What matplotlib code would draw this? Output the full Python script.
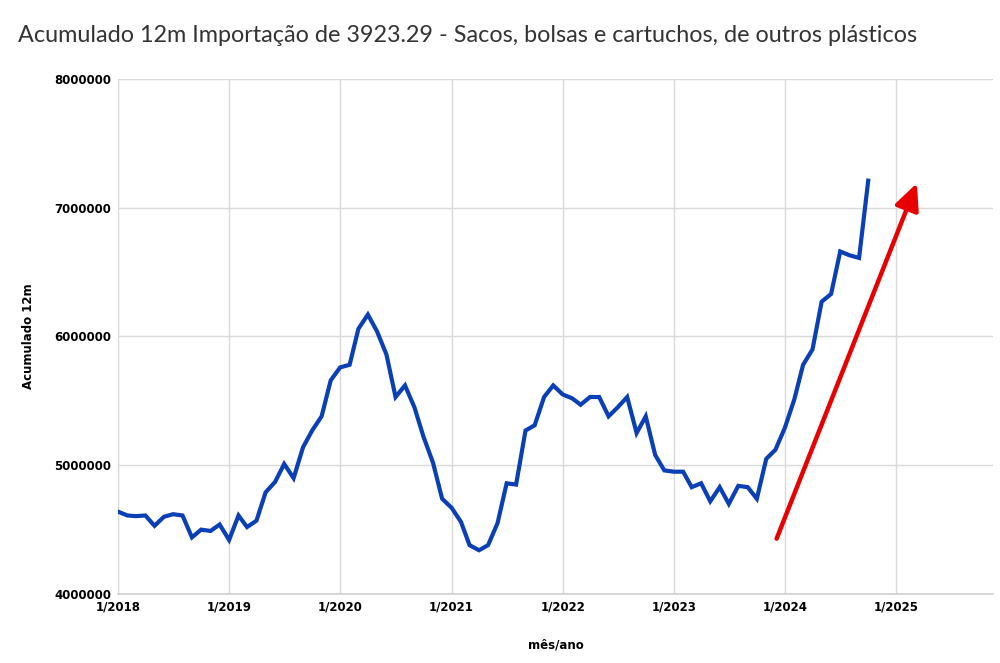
import matplotlib.pyplot as plt
import matplotlib.dates as mdates
import pandas as pd

# monthly 12-month accumulated imports, 1/2018 .. 10/2024
months = pd.date_range("2018-01-01", "2024-10-01", freq="MS")
values = [
    4.64e6, 4.61e6, 4.605e6, 4.61e6, 4.53e6, 4.60e6, 4.62e6, 4.61e6, 4.44e6, 4.50e6, 4.49e6, 4.54e6,  # 2018
    4.42e6, 4.61e6, 4.52e6, 4.57e6, 4.79e6, 4.87e6, 5.01e6, 4.90e6, 5.14e6, 5.27e6, 5.38e6, 5.66e6,  # 2019
    5.76e6, 5.78e6, 6.06e6, 6.17e6, 6.04e6, 5.86e6, 5.53e6, 5.62e6, 5.45e6, 5.22e6, 5.02e6, 4.74e6,  # 2020
    4.67e6, 4.56e6, 4.38e6, 4.34e6, 4.38e6, 4.55e6, 4.86e6, 4.85e6, 5.27e6, 5.31e6, 5.53e6, 5.62e6,  # 2021
    5.55e6, 5.52e6, 5.47e6, 5.53e6, 5.53e6, 5.38e6, 5.45e6, 5.53e6, 5.25e6, 5.38e6, 5.08e6, 4.96e6,  # 2022
    4.95e6, 4.95e6, 4.83e6, 4.86e6, 4.72e6, 4.83e6, 4.70e6, 4.84e6, 4.83e6, 4.74e6, 5.05e6, 5.12e6,  # 2023
    5.29e6, 5.51e6, 5.78e6, 5.90e6, 6.27e6, 6.33e6, 6.66e6, 6.63e6, 6.61e6, 7.21e6,                  # 2024
]
y_ticks = [4000000, 5000000, 6000000, 7000000, 8000000]

title = "Acumulado 12m Importação de 3923.29 - Sacos, bolsas e cartuchos, de outros plásticos"

fig = plt.figure(figsize=(10, 6.63), dpi=100)
ax = fig.add_axes([0.118, 0.104, 0.875, 0.777])

ax.plot(months, values, color="#0a3fb5", linewidth=3.0, solid_joinstyle="miter", zorder=3)

# red trend arrow
ax.annotate("", xy=(pd.Timestamp("2025-03-10"), 7.19e6), xytext=(pd.Timestamp("2023-12-05"), 4.43e6),
            arrowprops=dict(arrowstyle="-|>,head_length=1.6,head_width=0.75", color="#e80000", lw=3.2,
                            shrinkA=0, shrinkB=0), zorder=4)

ax.set_ylim(4000000, 8000000)
ax.set_yticks(y_ticks)
ax.set_yticklabels([str(v) for v in y_ticks])
ax.set_xlim(pd.Timestamp("2018-01-01"), pd.Timestamp("2025-11-15"))
ax.xaxis.set_major_locator(mdates.YearLocator())
ax.xaxis.set_major_formatter(plt.FuncFormatter(lambda v, p: "%d/%d" % (mdates.num2date(v).month, mdates.num2date(v).year)))

ax.grid(True, color="#d9d9d9", linewidth=1.0)
ax.set_axisbelow(True)
for s in ["top", "right"]:
    ax.spines[s].set_visible(False)
ax.spines["left"].set_color("#d9d9d9")
ax.spines["bottom"].set_color("#d0d0d0")
ax.spines["bottom"].set_linewidth(1.2)
ax.tick_params(length=0, labelsize=8.5, pad=5)
for lab in ax.get_xticklabels() + ax.get_yticklabels():
    lab.set_fontweight("bold")

ax.set_ylabel("Acumulado 12m", fontsize=8.5, fontweight="bold", labelpad=14)
ax.set_xlabel("mês/ano", fontsize=8.5, fontweight="bold", labelpad=18)

fig.text(0.018, 0.947, title, fontsize=16.8, family="Lato", color="#333333", va="center", ha="left")

fig.savefig("out.png")
